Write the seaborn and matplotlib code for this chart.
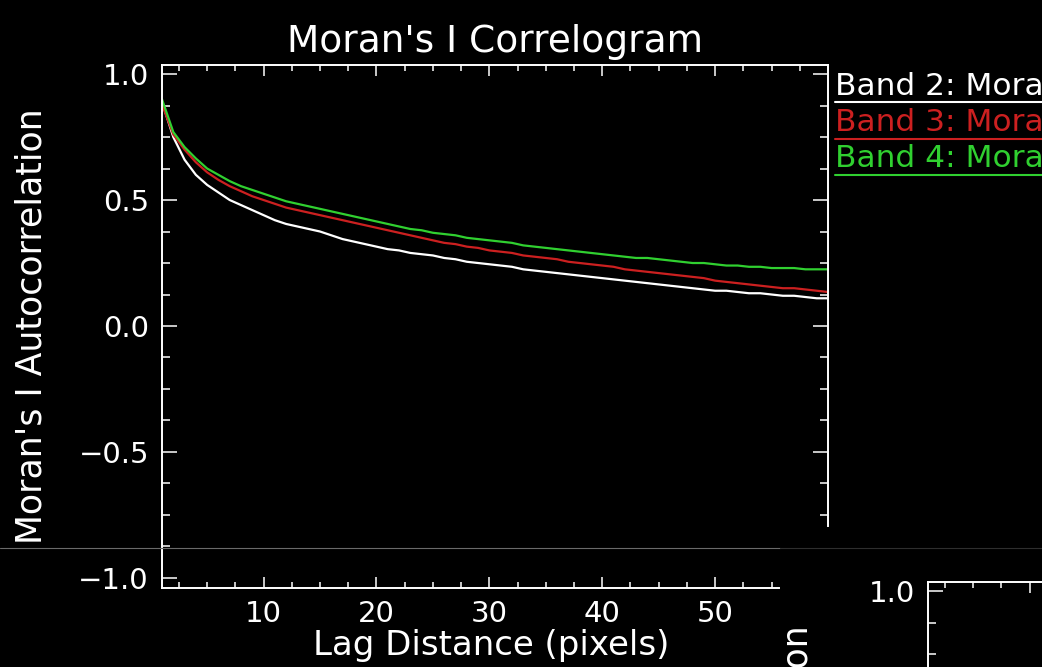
import matplotlib
matplotlib.use("Agg")
import matplotlib.pyplot as plt
import pandas as pd
import seaborn as sns
from matplotlib.lines import Line2D
from matplotlib.patches import Rectangle
from matplotlib.ticker import MultipleLocator, FixedLocator

# ---------------- data ----------------
lags = list(range(1, 61))
band2 = [0.89, 0.75, 0.66, 0.60, 0.56, 0.53, 0.50, 0.48, 0.46, 0.44,
         0.42, 0.405, 0.395, 0.385, 0.375, 0.36, 0.345, 0.335, 0.325, 0.315,
         0.305, 0.30, 0.29, 0.285, 0.28, 0.27, 0.265, 0.255, 0.25, 0.245,
         0.24, 0.235, 0.225, 0.22, 0.215, 0.21, 0.205, 0.20, 0.195, 0.19,
         0.185, 0.18, 0.175, 0.17, 0.165, 0.16, 0.155, 0.15, 0.145, 0.14,
         0.14, 0.135, 0.13, 0.13, 0.125, 0.12, 0.12, 0.115, 0.11, 0.11]
band3 = [0.88, 0.76, 0.70, 0.65, 0.61, 0.58, 0.555, 0.535, 0.515, 0.50,
         0.485, 0.47, 0.46, 0.45, 0.44, 0.43, 0.42, 0.41, 0.40, 0.39,
         0.38, 0.37, 0.36, 0.35, 0.34, 0.33, 0.325, 0.315, 0.31, 0.30,
         0.295, 0.29, 0.28, 0.275, 0.27, 0.265, 0.255, 0.25, 0.245, 0.24,
         0.235, 0.225, 0.22, 0.215, 0.21, 0.205, 0.20, 0.195, 0.19, 0.18,
         0.175, 0.17, 0.165, 0.16, 0.155, 0.15, 0.15, 0.145, 0.14, 0.135]
band4 = [0.90, 0.77, 0.71, 0.665, 0.625, 0.60, 0.575, 0.555, 0.54, 0.525,
         0.51, 0.495, 0.485, 0.475, 0.465, 0.455, 0.445, 0.435, 0.425, 0.415,
         0.405, 0.395, 0.385, 0.38, 0.37, 0.365, 0.36, 0.35, 0.345, 0.34,
         0.335, 0.33, 0.32, 0.315, 0.31, 0.305, 0.30, 0.295, 0.29, 0.285,
         0.28, 0.275, 0.27, 0.27, 0.265, 0.26, 0.255, 0.25, 0.25, 0.245,
         0.24, 0.24, 0.235, 0.235, 0.23, 0.23, 0.23, 0.225, 0.225, 0.225]
series_names = ["Band 2: Moran's I", "Band 3: Moran's I", "Band 4: Moran's I"]
series_colors = ["#ffffff", "#cc2020", "#30d030"]
title = "Moran's I Correlogram"
xlabel = "Lag Distance (pixels)"
ylabel = "Moran's I Autocorrelation"
xticks = [10, 20, 30, 40, 50]
xtick_labels = ["10", "20", "30", "40", "50"]
yticks = [-1.0, -0.5, 0.0, 0.5, 1.0]
ytick_labels = ["\u22121.0", "\u22120.5", "0.0", "0.5", "1.0"]

# ---------------- style ----------------
sns.set_theme(style="ticks", rc={
    "axes.facecolor": "black", "figure.facecolor": "black",
    "savefig.facecolor": "black", "axes.edgecolor": "white",
    "text.color": "white", "axes.labelcolor": "white",
    "xtick.color": "white", "ytick.color": "white",
    "axes.grid": False,
})
plt.rcParams["font.family"] = ["DejaVu Sans"]

W, H = 1042, 667
fig = plt.figure(figsize=(W / 100, H / 100), dpi=100)


def rect(l, t, r, b):
    return [l / W, 1 - b / H, (r - l) / W, (b - t) / H]


def style_axes(a):
    a.set_xlim(1, 60)
    a.set_ylim(-1.04, 1.036)
    a.xaxis.set_major_locator(FixedLocator(xticks))
    a.xaxis.set_minor_locator(MultipleLocator(2.5))
    a.yaxis.set_major_locator(FixedLocator(yticks))
    a.yaxis.set_minor_locator(MultipleLocator(0.125))
    a.set_xticklabels(xtick_labels)
    a.set_yticklabels(ytick_labels)
    a.tick_params(which="both", direction="in", top=True, right=True,
                  width=1.1, colors="white")
    a.tick_params(axis="y", which="major", length=10.8, pad=9.4, labelsize=21)
    a.tick_params(axis="y", which="minor", length=5.8)
    a.tick_params(axis="x", which="major", length=7.9, pad=8.5, labelsize=21)
    a.tick_params(axis="x", which="minor", length=4.3)
    for s in a.spines.values():
        s.set_color("white")
        s.set_linewidth(1.4)
    a.set_ylabel(ylabel, fontsize=25, color="white")
    a.yaxis.set_label_coords(-0.171, 0.5)


# main panel
ax = fig.add_axes(rect(162, 65, 828, 588))
df = pd.DataFrame({
    "Lag": lags * 3,
    "I": band2 + band3 + band4,
    "Series": [n for n in series_names for _ in lags],
})
sns.lineplot(data=df, x="Lag", y="I", hue="Series", hue_order=series_names,
             palette=dict(zip(series_names, series_colors)), linewidth=1.6,
             legend=False, estimator=None, ax=ax)
style_axes(ax)
ax.set_title(title, fontsize=27, pad=9.4, color="white")
ax.set_xlabel(xlabel, fontsize=24.5, color="white")
ax.xaxis.set_label_coords(0.494, -0.0775)
ax.spines["right"].set_bounds(-0.794, 1.036)
ax.spines["bottom"].set_bounds(1, 55.7)

# legend drawn IDL-style: text with an underline in the series colour
baselines = [95, 131, 167]
underlines = [102, 139, 175]
for name, col, bl, ul in zip(series_names, series_colors, baselines, underlines):
    fig.text(835 / W, 1 - bl / H, name, color=col, fontsize=22.5,
             ha="left", va="baseline")
    fig.add_artist(Line2D([835 / W, 1.0], [1 - ul / H] * 2, color=col, lw=1.5))

# fragment of the neighbouring panel, bottom right
ax2 = fig.add_axes(rect(928, 582, 928 + 666, 582 + 523))
style_axes(ax2)

# screenshot seam
fig.add_artist(Rectangle((785 / W, 1 - 600 / H), 65 / W, 70 / H,
                         transform=fig.transFigure, color="black", zorder=3))
fig.add_artist(Line2D([0, 780 / W], [1 - 548 / H] * 2, color="#6a6a6a",
                      lw=0.8, zorder=4))
fig.add_artist(Line2D([780 / W, 1.0], [1 - 548 / H] * 2, color="#2e2e2e",
                      lw=0.8, zorder=4))

fig.savefig("out.png", dpi=100, facecolor="black")
